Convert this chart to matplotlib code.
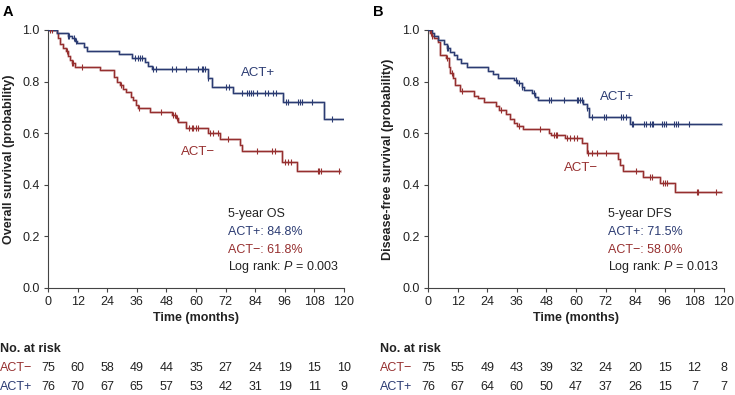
import numpy as np
import matplotlib.pyplot as plt
from matplotlib.transforms import blended_transform_factory

plt.rcParams['font.family'] = ['Liberation Sans', 'DejaVu Sans']
plt.rcParams['mathtext.fontset'] = 'custom'
plt.rcParams['mathtext.it'] = 'Liberation Sans:italic'
plt.rcParams['mathtext.rm'] = 'Liberation Sans'

BLUE = '#2b3b72'
RED = '#962f2f'
TXT = '#222222'
FS = 9

# ---- Panel A: overall survival ----
os_pos_t = [0, 3.5, 8.0, 9.6, 10.9, 11.9, 14.7, 15.7, 28.8, 34.2, 39.3, 40.7, 42.3,
            65.0, 66.3, 75.1, 95.1, 112.0]
os_pos_s = [1.0, 0.987, 0.977, 0.968, 0.958, 0.948, 0.935, 0.920, 0.906, 0.893, 0.877, 0.862, 0.848,
            0.813, 0.780, 0.757, 0.720, 0.654]
os_pos_end = 119.7
os_pos_cens = [8.0, 8.6, 10.7, 11.4, 35.3, 36.3, 37.3, 38.2, 42.7, 43.7, 50.1, 51.9, 55.8,
               60.9, 62.3, 63.0, 63.6, 65.0, 72.2, 73.4, 78.7, 80.8, 81.6, 82.4, 83.2, 84.6,
               88.0, 89.3, 91.1, 92.4, 96.3, 97.4, 101.2, 102.2, 103.1, 107.1, 115.0]

os_neg_t = [0, 3.5, 3.9, 4.9, 6.2, 7.2, 8.2, 8.9, 9.6, 10.9, 21.1, 26.9, 27.8, 29.2, 30.3,
            31.5, 33.6, 34.6, 35.5, 36.6, 41.3, 50.1, 51.8, 52.8, 55.8, 65.0, 69.7, 77.8,
            78.8, 94.7, 101.0]
os_neg_s = [1.0, 0.987, 0.970, 0.944, 0.931, 0.919, 0.900, 0.884, 0.871, 0.858, 0.845, 0.819,
            0.800, 0.787, 0.771, 0.761, 0.742, 0.729, 0.709, 0.697, 0.681, 0.671, 0.658, 0.645,
            0.622, 0.600, 0.577, 0.554, 0.532, 0.490, 0.455]
os_neg_end = 118.5
os_neg_cens = [0.8, 1.5, 7.6, 9.6, 10.3, 13.9, 29.6, 36.9, 45.8, 50.8, 51.5, 52.2, 57.2,
               58.2, 58.9, 60.0, 60.9, 65.7, 67.0, 69.0, 73.1, 84.8, 91.0, 92.0, 96.1, 97.4,
               98.5, 109.3, 110.0, 110.7, 118.1]

# ---- Panel B: disease-free survival ----
dfs_pos_t = [0, 1.8, 2.4, 3.9, 6.6, 7.6, 8.9, 10.7, 11.9, 13.2, 15.7, 24.5, 26.5, 28.5,
             35.0, 36.0, 38.0, 39.0, 42.3, 43.4, 44.7, 63.0, 64.3, 65.4, 81.9]
dfs_pos_s = [1.0, 0.987, 0.977, 0.961, 0.944, 0.929, 0.916, 0.903, 0.888, 0.873, 0.855, 0.842,
             0.828, 0.815, 0.806, 0.793, 0.780, 0.767, 0.755, 0.742, 0.727, 0.713, 0.697,
             0.662, 0.636]
dfs_pos_end = 118.6
dfs_pos_cens = [7.6, 8.0, 35.5, 37.0, 38.0, 43.1, 49.2, 49.9, 55.3, 60.3, 60.9, 61.6, 62.3,
                64.3, 66.3, 71.3, 72.0, 78.1, 79.2, 80.3, 82.6, 83.2, 87.6, 88.4, 90.0, 90.7,
                91.3, 94.9, 95.5, 96.5, 99.8, 100.5, 101.5, 105.8]

dfs_neg_t = [0, 0.8, 1.8, 2.6, 3.9, 4.9, 7.2, 8.5, 8.9, 10.3, 10.9, 13.0, 18.8, 20.4, 22.7,
             27.4, 28.8, 31.5, 33.2, 35.0, 36.0, 38.6, 49.2, 50.0, 55.5, 62.3, 64.3, 77.1,
             77.8, 79.2, 87.0, 94.0, 100.1]
dfs_neg_s = [1.0, 0.987, 0.977, 0.968, 0.955, 0.903, 0.890, 0.858, 0.832, 0.813, 0.787, 0.764,
             0.745, 0.735, 0.720, 0.707, 0.690, 0.673, 0.655, 0.638, 0.628, 0.615, 0.602,
             0.593, 0.582, 0.561, 0.524, 0.499, 0.477, 0.453, 0.431, 0.408, 0.373]
dfs_neg_end = 118.6
dfs_neg_cens = [1.2, 1.8, 7.6, 9.6, 13.7, 29.4, 36.9, 45.4, 51.1, 51.8, 52.4, 56.2, 57.6,
                59.2, 60.3, 65.0, 66.3, 68.4, 72.2, 84.2, 89.8, 90.7, 95.1, 96.0, 97.0, 108.9,
                109.6, 116.8]

months = [0, 12, 24, 36, 48, 60, 72, 84, 96, 108, 120]
os_risk_neg = [75, 60, 58, 49, 44, 35, 27, 24, 19, 15, 10]
os_risk_pos = [76, 70, 67, 65, 57, 53, 42, 31, 19, 11, 9]
dfs_risk_neg = [75, 55, 49, 43, 39, 32, 24, 20, 15, 12, 8]
dfs_risk_pos = [76, 67, 64, 60, 50, 47, 37, 26, 15, 7, 7]

W, H = 735, 395
fig = plt.figure(figsize=(W / 100, H / 100), dpi=100)


def px_axes(x0, x1, ytop, ybot):
    return fig.add_axes([x0 / W, 1 - ybot / H, (x1 - x0) / W, (ybot - ytop) / H])


def km(ax, t, s, end, cens, color):
    tt = list(t) + [end]
    ss = list(s) + [s[-1]]
    ax.step(tt, ss, where='post', color=color, lw=2.0, alpha=0.3, zorder=2)
    ax.step(tt, ss, where='post', color=color, lw=0.9, zorder=3)
    idx = np.searchsorted(np.array(t), np.array(cens), side='right') - 1
    ax.plot(cens, np.array(s)[idx], ls='none', marker='|', ms=5, mew=0.8,
            color=color, zorder=4)


def panel(ax, letter, ylabel, pos, neg, stats, risk_neg, risk_pos, lab_pos, lab_neg,
          letter_x, ylab_x, table_x):
    km(ax, *neg, RED)
    km(ax, *pos, BLUE)
    ax.set_xlim(0, 120)
    ax.set_ylim(0, 1.0)
    ax.set_xticks(months)
    ax.set_yticks([0, 0.2, 0.4, 0.6, 0.8, 1.0])
    ax.set_yticklabels(['0.0', '0.2', '0.4', '0.6', '0.8', '1.0'])
    for sp in ['top', 'right']:
        ax.spines[sp].set_visible(False)
    for sp in ['left', 'bottom']:
        ax.spines[sp].set_color('#444444')
        ax.spines[sp].set_linewidth(0.8)
    ax.tick_params(length=3, width=0.8, color='#444444', labelsize=FS,
                   labelcolor=TXT, pad=3)
    ax.set_xlabel('Time (months)', fontsize=FS, fontweight='bold', color=TXT, labelpad=3)
    fig.text(ylab_x / W, 1 - 159 / H, ylabel, rotation=90, fontsize=FS,
             fontweight='bold', color=TXT, ha='center', va='center')
    fig.text(letter_x / W, 1 - 12 / H, letter, fontsize=10.5, fontweight='bold',
             color='black', ha='left', va='center')

    ax.text(lab_pos[0], lab_pos[1], 'ACT+', color=BLUE, fontsize=9.5, ha='center', va='center')
    ax.text(lab_neg[0], lab_neg[1], 'ACT\u2212', color=RED, fontsize=9.5, ha='center', va='center')

    cols = [TXT, BLUE, RED, TXT]
    for i, (line, c) in enumerate(zip(stats, cols)):
        ax.text(73, 0.287 - i * 0.069, line, color=c, fontsize=FS, ha='left', va='center')

    tr = blended_transform_factory(ax.transData, fig.transFigure)
    fig.text(table_x / W, 1 - 349 / H, 'No. at risk', fontsize=FS, fontweight='bold',
             color=TXT, ha='left', va='center')
    fig.text(table_x / W, 1 - 368 / H, 'ACT\u2212', fontsize=FS, color=RED,
             ha='left', va='center')
    fig.text(table_x / W, 1 - 387 / H, 'ACT+', fontsize=FS, color=BLUE,
             ha='left', va='center')
    for m, a, b in zip(months, risk_neg, risk_pos):
        ax.text(m, 1 - 368 / H, str(a), transform=tr, fontsize=FS, color=TXT,
                ha='center', va='center', clip_on=False)
        ax.text(m, 1 - 387 / H, str(b), transform=tr, fontsize=FS, color=TXT,
                ha='center', va='center', clip_on=False)


axA = px_axes(48, 344, 30, 288)
panel(axA, 'A', 'Overall survival (probability)',
      (os_pos_t, os_pos_s, os_pos_end, os_pos_cens),
      (os_neg_t, os_neg_s, os_neg_end, os_neg_cens),
      ['5-year OS', 'ACT+: 84.8%', 'ACT\u2212: 61.8%', r'Log rank: $\it{P}$ = 0.003'],
      os_risk_neg, os_risk_pos, (85, 0.833), (61, 0.527), 3, 9, 0)

axB = px_axes(428, 724, 30, 288)
panel(axB, 'B', 'Disease-free survival (probability)',
      (dfs_pos_t, dfs_pos_s, dfs_pos_end, dfs_pos_cens),
      (dfs_neg_t, dfs_neg_s, dfs_neg_end, dfs_neg_cens),
      ['5-year DFS', 'ACT+: 71.5%', 'ACT\u2212: 58.0%', r'Log rank: $\it{P}$ = 0.013'],
      dfs_risk_neg, dfs_risk_pos, (76.6, 0.74), (62, 0.465), 373, 388, 380)

fig.savefig('out.png', dpi=100)
